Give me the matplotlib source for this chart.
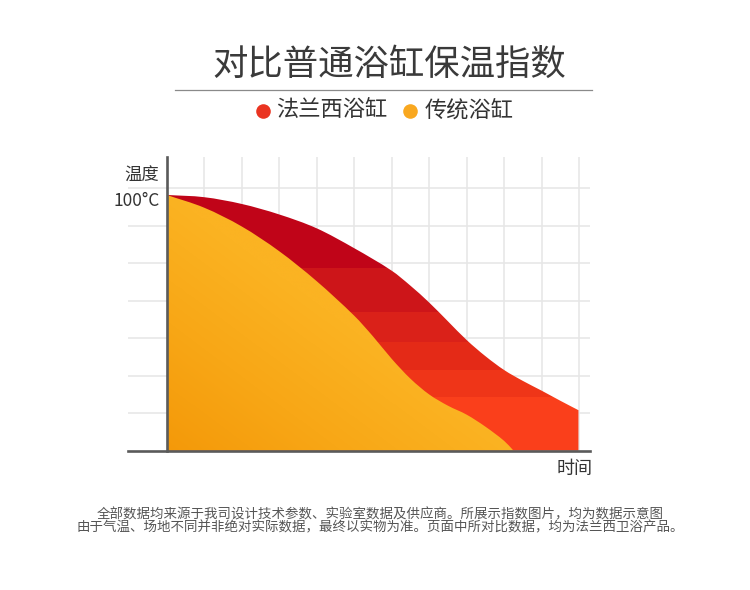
import numpy as np
import matplotlib
matplotlib.use('Agg')
import matplotlib.pyplot as plt
from matplotlib.path import Path
from matplotlib.patches import PathPatch
from matplotlib.colors import LinearSegmentedColormap, to_rgb
from matplotlib.lines import Line2D

plt.rcParams['font.family'] = ['Noto Sans CJK SC', 'DejaVu Sans']

# ---------------- data ----------------
title = '对比普通浴缸保温指数'
series_names = ['法兰西浴缸', '传统浴缸']
series_colors = ['#EA3421', '#F9A820']
y_label = '温度'
y_top_label = '100°C'
x_label = '时间'
notes = ['全部数据均来源于我司设计技术参数、实验室数据及供应商。所展示指数图片，均为数据示意图',
         '由于气温、场地不同并非绝对实际数据，最终以实物为准。页面中所对比数据，均为法兰西卫浴产品。']

# time / temperature in grid units (schematic index)
time_red = [0, 1, 2, 3, 4, 5, 6, 6.5, 7, 7.5, 8, 8.5, 9, 9.5, 10, 10.5, 10.98]
temp_red = [6.82, 6.76, 6.58, 6.3, 5.93, 5.4, 4.8, 4.4, 3.95, 3.45, 2.95, 2.52, 2.15, 1.86, 1.6, 1.33, 1.08]
time_orange = [0, 1, 2, 3, 4, 5, 5.5, 6, 6.5, 7, 7.5, 8, 8.5, 9, 9.25]
temp_orange = [6.82, 6.48, 5.98, 5.32, 4.52, 3.6, 3.05, 2.45, 1.92, 1.5, 1.2, 0.96, 0.64, 0.26, 0.0]

# ---------------- layout ----------------
W, H = 750, 590
fig = plt.figure(figsize=(W / 100, H / 100), dpi=100)
fig.patch.set_facecolor('white')


def fx(px):
    return px / W


def fy(py):
    return 1 - py / H


unit = 37.5
x0_px, y0_px = 166.7, 450.7
ax = fig.add_axes([fx(128), fy(450.7), fx(590) - fx(128), fy(157) - fy(450.7)])
xmin = (128 - x0_px) / unit
xmax = (590 - x0_px) / unit
ymax = (y0_px - 157) / unit

ax.set_xticks(np.arange(1, 12))
ax.set_yticks(np.arange(1, 8))
ax.grid(True, color='#E6E6E6', lw=1.1)
ax.set_axisbelow(True)
ax.tick_params(length=0, labelbottom=False, labelleft=False)
for s in ['top', 'right']:
    ax.spines[s].set_visible(False)
ax.spines['left'].set_position(('data', 0))
for s in ['left', 'bottom']:
    ax.spines[s].set_color('#5a5a5a')
    ax.spines[s].set_linewidth(1.9)
    ax.spines[s].set_zorder(5)


def smooth_area(xs, ys):
    """Closed area under a smooth (C1 cubic Hermite) curve through the points."""
    x = np.asarray(xs, float)
    y = np.asarray(ys, float)
    n = len(x)
    m = np.zeros(n)
    m[0] = (y[1] - y[0]) / (x[1] - x[0])
    m[-1] = (y[-1] - y[-2]) / (x[-1] - x[-2])
    for i in range(1, n - 1):
        m[i] = (y[i + 1] - y[i - 1]) / (x[i + 1] - x[i - 1])
    verts = [(x[0], 0.0), (x[0], y[0])]
    codes = [Path.MOVETO, Path.LINETO]
    for i in range(n - 1):
        h = x[i + 1] - x[i]
        verts += [(x[i] + h / 3, y[i] + m[i] * h / 3),
                  (x[i + 1] - h / 3, y[i + 1] - m[i + 1] * h / 3),
                  (x[i + 1], y[i + 1])]
        codes += [Path.CURVE4] * 3
    verts += [(x[-1], 0.0), (x[0], 0.0)]
    codes += [Path.LINETO, Path.CLOSEPOLY]
    return Path(verts, codes)


# red area with banded vertical gradient
red_patch = PathPatch(smooth_area(time_red, temp_red), facecolor='none', edgecolor='none')
ax.add_patch(red_patch)
band_edges = [0, 1.43, 2.15, 2.90, 3.70, 4.87, 8]
band_cols = ['#FA3F1B', '#EF3518', '#E42A17', '#DA2119', '#CD1519', '#C00418']
N = 400
ygrid = np.linspace(0, 7, N)
col_img = np.zeros((N, 1, 3))
for lo, hi, c in zip(band_edges[:-1], band_edges[1:], band_cols):
    msk = (ygrid >= lo) & (ygrid < hi)
    col_img[msk, 0, :] = to_rgb(c)
im = ax.imshow(col_img, extent=[0, 11.2, 0, 7], origin='lower', aspect='auto',
               interpolation='nearest', zorder=2)
im.set_clip_path(red_patch)

# orange area with diagonal gradient
or_patch = PathPatch(smooth_area(time_orange, temp_orange), facecolor='none', edgecolor='none')
ax.add_patch(or_patch)
cmap = LinearSegmentedColormap.from_list('or', ['#F49909', '#F8A716', '#FBB322'])
gx, gy = np.meshgrid(np.linspace(0, 9.3, 300), np.linspace(0, 7, 300))
t = np.clip((gx / 9.3 + gy / 6.9) / 1.0, 0, 1)
im2 = ax.imshow(t, extent=[0, 9.3, 0, 7], origin='lower', aspect='auto', cmap=cmap,
                vmin=0, vmax=1, interpolation='bilinear', zorder=3)
im2.set_clip_path(or_patch)

ax.set_xlim(xmin, xmax)
ax.set_ylim(0, ymax)

# axis texts
fig.text(fx(159.5), fy(176), y_label, ha='right', va='center', fontsize=12.5, color='#333333')
fig.text(fx(159.5), fy(201), y_top_label, ha='right', va='center', fontsize=12.5, color='#333333')
fig.text(fx(575), fy(469), x_label, ha='center', va='center', fontsize=13, color='#333333')

# title and rule
fig.text(fx(389), fy(65), title, ha='center', va='center', fontsize=25.5, color='#3a3a3a')
fig.add_artist(Line2D([fx(175), fx(592)], [fy(90), fy(90)], color='#8a8a8a', lw=0.9))

# legend
leg_x = [262.7, 410]
txt_x = [276.5, 425]
for name, col, cx, tx in zip(series_names, series_colors, leg_x, txt_x):
    fig.add_artist(Line2D([fx(cx)], [fy(110.5)], marker='o', markersize=10.5, color=col,
                          markeredgewidth=0, linestyle='none'))
    fig.text(fx(tx), fy(110), name, ha='left', va='center', fontsize=16, color='#333333')

# footnotes (one text block, two centred lines)
fig.text(fx(380), fy(521), '\n'.join(notes), ha='center', va='center', multialignment='center',
         fontsize=9.7, linespacing=0.87, color='#555555')

fig.savefig('out.png', dpi=100, facecolor='white')
